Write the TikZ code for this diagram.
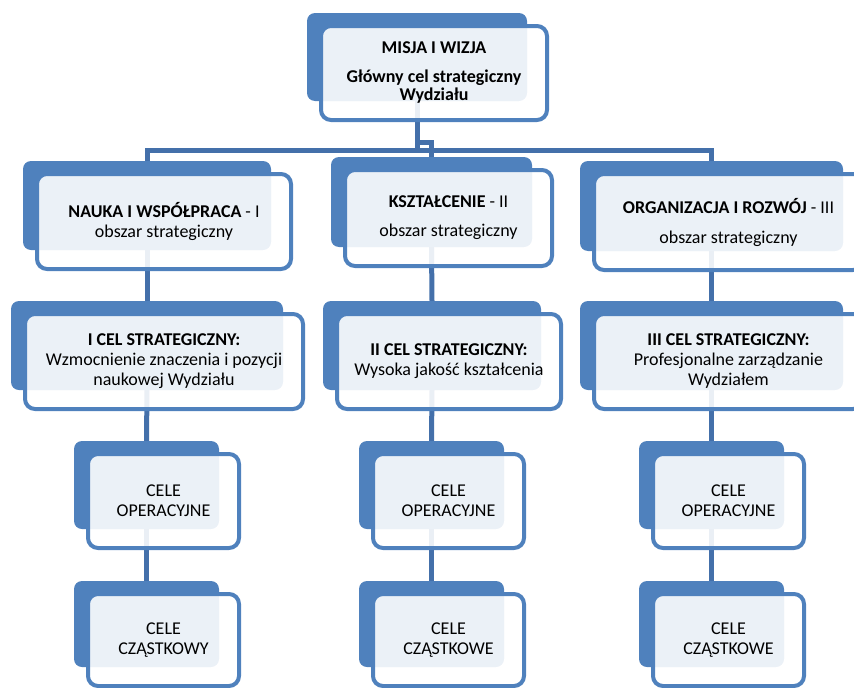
\documentclass[tikz,border=0pt]{standalone}
\usepackage{fontspec}
\setmainfont{Carlito}
\usetikzlibrary{backgrounds}
\definecolor{boxblue}{RGB}{79,129,189}
\definecolor{connblue}{RGB}{68,112,170}
\tikzset{
  backbox/.style={fill=boxblue,draw=none,rounded corners=8pt,inner sep=0pt,outer sep=0pt},
  frontbox/.style={fill=white,fill opacity=0.89,text opacity=1,draw=boxblue,line width=4pt,
     rounded corners=10pt,inner sep=0pt,outer sep=0pt,align=center,text=black,
     font=\fontsize{18}{20}\selectfont},
  conn/.style={draw=connblue,line width=5pt}
}
\newcommand\mkbox[6]{%
 \pgfmathsetmacro\bw{#4-#2}\pgfmathsetmacro\bh{#5-#3}%
 \pgfmathsetmacro\bcx{(#2+#4)/2}\pgfmathsetmacro\bcy{(#3+#5)/2}%
 \pgfmathsetmacro\fw{#4-#2+6}\pgfmathsetmacro\fh{#5-#3+6}%
 \pgfmathsetmacro\fcx{(#2+#4)/2+17}\pgfmathsetmacro\fcy{(#3+#5)/2+16}%
 \node[backbox,minimum width=\bw pt,minimum height=\bh pt] (#1b) at (\bcx,\bcy) {};
 \node[frontbox,minimum width=\fw pt,minimum height=\fh pt] (#1) at (\fcx,\fcy) {#6};
}
\begin{document}
\begin{tikzpicture}[x=1pt,y=-1pt]
\useasboundingbox (0,0) rectangle (854,688);
\clip (0,0) rectangle (854,688);
% top
\mkbox{top}{307}{13}{527}{101}{\bfseries MISJA I WIZJA\\[9pt]\bfseries Główny cel strategiczny\\[-2pt]\bfseries Wydziału}
% level 1
\mkbox{a1}{23}{161}{271}{250}{\textbf{NAUKA I WSPÓŁPRACA} - I\\obszar strategiczny}
\mkbox{b1}{331}{157}{532}{247}{\textbf{KSZTAŁCENIE} - II\\[9pt]obszar strategiczny}
\mkbox{c1}{580}{161}{843}{251}{\textbf{ORGANIZACJA I ROZWÓJ} - III\\[10pt]obszar strategiczny}
% level 2
\mkbox{a2}{11}{301}{283}{390}{\textbf{I CEL STRATEGICZNY:}\\Wzmocnienie znaczenia i pozycji\\naukowej Wydziału}
\mkbox{b2}{323}{301}{541}{390}{\textbf{II CEL STRATEGICZNY:}\\Wysoka jakość kształcenia}
\mkbox{c2}{580}{301}{843}{390}{\textbf{III CEL STRATEGICZNY:}\\Profesjonalne zarządzanie\\Wydziałem}
% level 3
\mkbox{a3}{74}{441}{219}{529}{CELE\\OPERACYJNE}
\mkbox{b3}{359}{441}{504}{529}{CELE\\OPERACYJNE}
\mkbox{c3}{639}{441}{784}{529}{CELE\\OPERACYJNE}
% level 4
\mkbox{a4}{74}{581}{219}{667}{CELE\\CZĄSTKOWY}
\mkbox{b4}{359}{581}{504}{667}{CELE\\CZĄSTKOWE}
\mkbox{c4}{639}{581}{784}{667}{CELE\\CZĄSTKOWE}
\begin{scope}[on background layer]
\draw[conn] (topb.south) -- ++(0,49) -| (a1b.north);
\draw[conn] (topb.south) -- ++(0,49) -| (c1b.north);
\draw[conn] (topb.south) -- ++(0,41) -| (b1b.north);
\draw[conn] (a1b.south) -- (a2b.north);
\draw[conn] (b1b.south) -- (b2b.north);
\draw[conn] (c1b.south) -- (c2b.north);
\draw[conn] (a2b.south) -- (a3b.north);
\draw[conn] (b2b.south) -- (b3b.north);
\draw[conn] (c2b.south) -- (c3b.north);
\draw[conn] (a3b.south) -- (a4b.north);
\draw[conn] (b3b.south) -- (b4b.north);
\draw[conn] (c3b.south) -- (c4b.north);
\end{scope}
\end{tikzpicture}
\end{document}
